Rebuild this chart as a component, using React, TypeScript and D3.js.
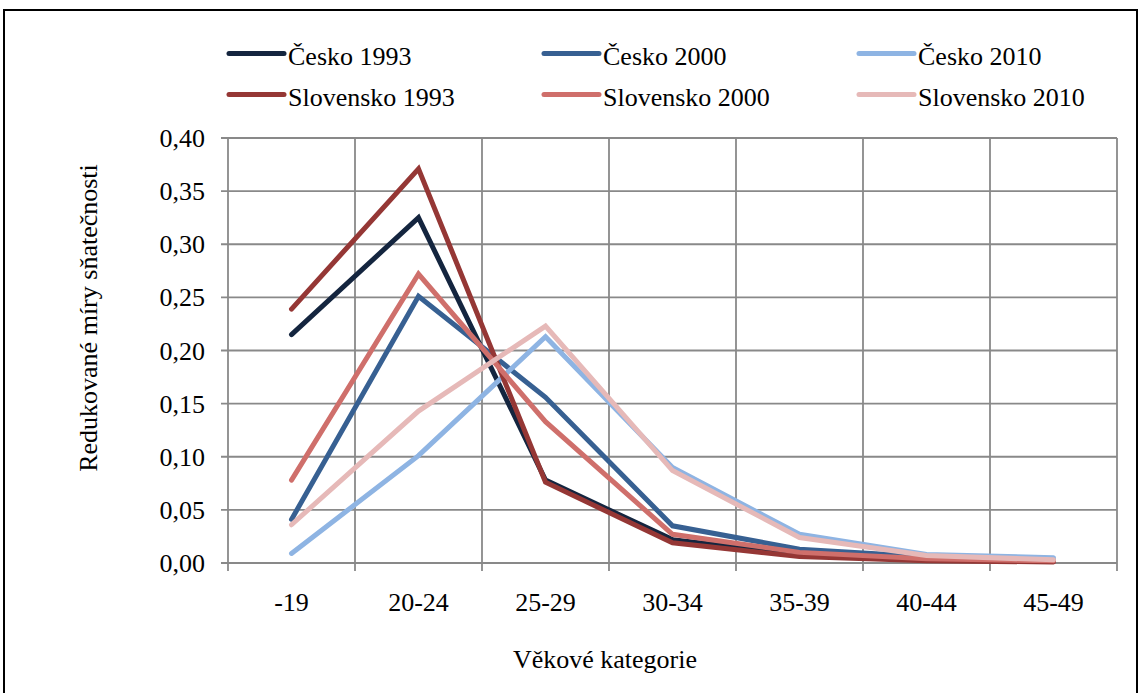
import React from "react";
import * as d3 from "d3";

const categories = ["-19", "20-24", "25-29", "30-34", "35-39", "40-44", "45-49"];
const yTicks = [0, 0.05, 0.1, 0.15, 0.2, 0.25, 0.3, 0.35, 0.4];

const cesko1993 = [0.215, 0.325, 0.078, 0.022, 0.008, 0.004, 0.002];
const cesko2000 = [0.041, 0.251, 0.156, 0.035, 0.013, 0.006, 0.003];
const cesko2010 = [0.009, 0.101, 0.213, 0.090, 0.027, 0.008, 0.005];
const slovensko1993 = [0.239, 0.371, 0.076, 0.019, 0.006, 0.002, 0.001];
const slovensko2000 = [0.078, 0.272, 0.133, 0.027, 0.010, 0.004, 0.002];
const slovensko2010 = [0.036, 0.143, 0.223, 0.087, 0.024, 0.007, 0.003];

const seriesNames = ["Česko 1993", "Česko 2000", "Česko 2010", "Slovensko 1993", "Slovensko 2000", "Slovensko 2010"];
const seriesValues = [cesko1993, cesko2000, cesko2010, slovensko1993, slovensko2000, slovensko2010];
const seriesColors = ["#14253f", "#376092", "#8eb4e3", "#953735", "#cf6f6b", "#e6b9b8"];

const W = 1140, H = 693;
const left = 228, right = 1117, top = 138, bottom = 563;
const font = "Liberation Serif, DejaVu Serif, serif";

export default function App() {
  const x = d3.scaleBand<string>().domain(categories).range([left, right]).padding(0);
  const y = d3.scaleLinear().domain([0, 0.4]).range([bottom, top]);
  const cx = (c: string) => (x(c) as number) + x.bandwidth() / 2;
  const line = d3.line<number>().x((_, i) => cx(categories[i])).y(d => y(d));
  const fmt = (v: number) => v.toFixed(2).replace(".", ",");
  const bounds = [...categories.map(c => x(c) as number), right];
  const grid = "#898989";
  const ts = { fontFamily: font, fontSize: "26px", fill: "#000" };

  return (
    <svg width={W} height={H} style={{ position: "absolute", left: 0, top: 0, background: "#fff" }}>
      <rect x={0} y={0} width={W} height={H} fill="#fff" />
      <rect x={4} y={10} width={1133} height={720} fill="none" stroke="#000" strokeWidth={2} />
      {yTicks.map(t => (
        <g key={"y" + t}>
          <line x1={left - 7} x2={right} y1={y(t)} y2={y(t)} stroke={grid} strokeWidth={1.8} />
          <text x={205} y={y(t) + 9} textAnchor="end" style={ts}>{fmt(t)}</text>
        </g>
      ))}
      {bounds.map((b, i) => (
        <line key={"v" + i} x1={b} x2={b} y1={top} y2={bottom + 8} stroke={grid} strokeWidth={1.8} />
      ))}
      {categories.map(c => (
        <text key={c} x={cx(c)} y={611} textAnchor="middle" style={ts}>{c}</text>
      ))}
      {seriesValues.map((vals, i) => (
        <path key={seriesNames[i]} d={line(vals) as string} fill="none" stroke={seriesColors[i]} strokeWidth={5} strokeLinejoin="miter" strokeLinecap="round" />
      ))}
      {seriesNames.map((n, i) => {
        const col = i % 3, row = Math.floor(i / 3);
        const lx = 229 + col * 315, ly = 53.5 + row * 41;
        return (
          <g key={"l" + n}>
            <line x1={lx} x2={lx + 55} y1={ly} y2={ly} stroke={seriesColors[i]} strokeWidth={5} strokeLinecap="round" />
            <text x={lx + 59} y={ly + 11.5} style={ts}>{n}</text>
          </g>
        );
      })}
      <text transform={`translate(97,318) rotate(-90)`} textAnchor="middle" style={ts}>Redukované míry sňatečnosti</text>
      <text x={605} y={668} textAnchor="middle" style={ts}>Věkové kategorie</text>
    </svg>
  );
}
